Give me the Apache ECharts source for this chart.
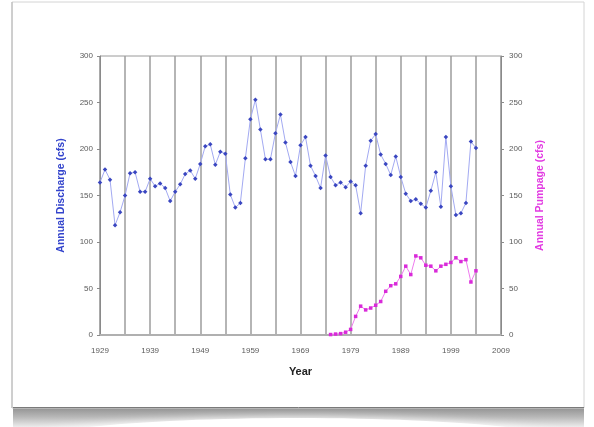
<!DOCTYPE html>
<html>
<head>
<meta charset="utf-8">
<script src="https://cdn.jsdelivr.net/npm/echarts@6/dist/echarts.min.js"></script>
<style>
  html, body { margin: 0; padding: 0; background: #ffffff; }
  #chart { width: 594px; height: 427px; }
</style>
</head>
<body>
<div id="chart"></div>
<script>
// Annual discharge and annual pumpage, 1929-2004
const BASE_YEAR = 1929;
const END_YEAR = 2009;

const dischargeYears = [];
for (let y = 1929; y <= 2004; y++) dischargeYears.push(y);
const dischargeCfs = [
  164, 178, 167, 118, 132, 150, 174, 175, 154, 154,
  168, 160, 163, 158, 144, 154, 162, 173, 177, 168,
  184, 203, 205, 183, 197, 195, 151, 137, 142, 190,
  232, 253, 221, 189, 189, 217, 237, 207, 186, 171,
  204, 213, 182, 171, 158, 193, 170, 161, 164, 159,
  165, 161, 131, 182, 209, 216, 194, 184, 172, 192,
  170, 152, 144, 146, 141, 137, 155, 175, 138, 213,
  160, 129, 131, 142, 208, 201
];

const pumpageYears = [];
for (let y = 1975; y <= 2004; y++) pumpageYears.push(y);
const pumpageCfs = [
  0.5, 1, 1.5, 3, 6, 20, 31, 27, 29, 32,
  36, 47, 53, 55, 63, 74, 65, 85, 83, 75,
  74, 69, 74, 76, 78, 83, 79, 81, 57, 69
];

const yTicks = [0, 50, 100, 150, 200, 250, 300];

const toPairs = (years, vals) => years.map((y, i) => [y - BASE_YEAR, vals[i]]);

const chart = echarts.init(document.getElementById('chart'), null, { renderer: 'canvas' });

const FONT = 'Liberation Sans, Arial, sans-serif';
const tickLabel = { color: '#5a5a5a', fontSize: 8, fontFamily: FONT };

const yAxisCommon = {
  type: 'value',
  min: yTicks[0],
  max: yTicks[yTicks.length - 1],
  interval: 50,
  axisLine: { show: true, lineStyle: { color: '#8a8a8a', width: 1 } },
  axisTick: { show: true, inside: false, length: 3, lineStyle: { color: '#8a8a8a' } },
  splitLine: { show: false },
  nameLocation: 'middle',
  nameTextStyle: { fontSize: 10.5, fontWeight: 'bold', fontFamily: FONT }
};

chart.setOption({
  backgroundColor: '#ffffff',
  animation: false,
  graphic: [
    // soft curled shadow under the card
    {
      type: 'rect', z: -20, silent: true,
      shape: { x: 13, y: 407, width: 571, height: 20 },
      style: {
        fill: new echarts.graphic.LinearGradient(0, 0, 0, 1, [
          { offset: 0, color: '#8f8f8f' },
          { offset: 0.5, color: '#b8b8b8' },
          { offset: 1, color: '#ececec' }
        ])
      }
    },
    {
      type: 'ellipse', z: -19, silent: true,
      shape: { cx: 298, cy: 448, rx: 292, ry: 30 },
      style: { fill: '#ffffff', shadowBlur: 10, shadowColor: '#ffffff' }
    },
    // card
    {
      type: 'rect', z: -18, silent: true,
      shape: { x: 12, y: 2, width: 572, height: 406 },
      style: { fill: '#ffffff', stroke: '#d4d4d4', lineWidth: 1 }
    },
    {
      type: 'line', z: -17, silent: true,
      shape: { x1: 12, y1: 2, x2: 12, y2: 408 },
      style: { stroke: '#b4b4b4', lineWidth: 1 }
    },
    {
      type: 'line', z: -17, silent: true,
      shape: { x1: 13, y1: 407.5, x2: 584, y2: 407.5 },
      style: { stroke: '#7a7a7a', lineWidth: 1 }
    }
  ],
  grid: {
    left: 100, right: 93, top: 56, bottom: 92,
    show: true, borderColor: '#9a9a9a', borderWidth: 1, backgroundColor: 'transparent'
  },
  xAxis: {
    type: 'value',
    min: 0,
    max: END_YEAR - BASE_YEAR,
    interval: 5,
    name: 'Year',
    nameLocation: 'middle',
    nameGap: 31,
    nameTextStyle: { color: '#222', fontSize: 11, fontWeight: 'bold', fontFamily: FONT },
    axisLine: { show: true, lineStyle: { color: '#b0b0b0', width: 2 } },
    axisTick: { show: false },
    axisLabel: Object.assign({}, tickLabel, {
      margin: 12,
      formatter: v => (v % 10 === 0 ? String(BASE_YEAR + v) : '')
    }),
    splitLine: { show: true, lineStyle: { color: '#9c9c9c', width: 1.5 } }
  },
  yAxis: [
    Object.assign({}, yAxisCommon, {
      position: 'left',
      name: 'Annual Discharge (cfs)',
      nameGap: 33,
      nameTextStyle: Object.assign({}, yAxisCommon.nameTextStyle, { color: '#3344cc' }),
      axisLabel: Object.assign({}, tickLabel, { margin: 7 })
    }),
    Object.assign({}, yAxisCommon, {
      position: 'right',
      name: 'Annual Pumpage (cfs)',
      nameGap: 34,
      nameTextStyle: Object.assign({}, yAxisCommon.nameTextStyle, { color: '#e23ce2' }),
      axisLabel: Object.assign({}, tickLabel, { margin: 8 })
    })
  ],
  series: [
    {
      name: 'Annual Discharge',
      type: 'line',
      yAxisIndex: 0,
      data: toPairs(dischargeYears, dischargeCfs),
      symbol: 'diamond',
      symbolSize: 4.5,
      lineStyle: { color: '#a3aaf2', width: 1 },
      itemStyle: { color: '#3a46c0' },
      z: 3
    },
    {
      name: 'Annual Pumpage',
      type: 'line',
      yAxisIndex: 1,
      data: toPairs(pumpageYears, pumpageCfs),
      symbol: 'rect',
      symbolSize: 3.5,
      lineStyle: { color: '#ee7bee', width: 1 },
      itemStyle: { color: '#d92ad9' },
      z: 3
    }
  ]
});
</script>
</body>
</html>
